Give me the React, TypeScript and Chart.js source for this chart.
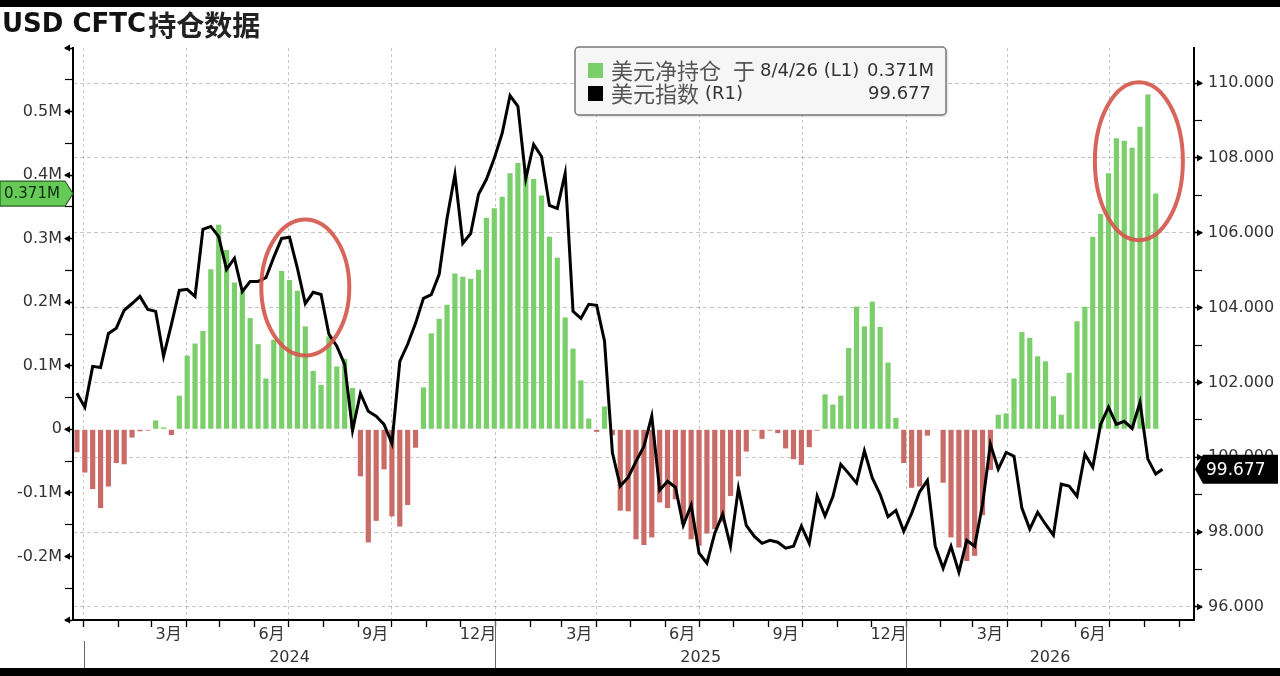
import React, { useEffect, useRef } from "react";
import { Chart, registerables } from "chart.js";

Chart.register(...registerables);

// ---------- text ----------
const TITLE_LATIN = "USD CFTC";
const TITLE_CJK = "持仓数据";
const LEGEND_NET = "美元净持仓";
const LEGEND_AT = "于";
const LEGEND_DATE = "8/4/26 (L1)";
const LEGEND_DXY = "美元指数";
const LEGEND_AXIS = "(R1)";

// ---------- dates ----------
const FIRST_REPORT = "2023-12-26"; // weekly CFTC report dates start here
const LAST_DXY_DATE = "2026-08-17"; // extra (latest) dollar-index reading
const X_MIN_DATE = "2023-12-23";
const X_MAX_DATE = "2026-09-14";

// ---------- series ----------
// USD net position, millions (weekly)
const NET_POSITION = [
  -0.036, -0.068, -0.094, -0.124, -0.09, -0.053, -0.055, -0.013, -0.003, -0.002,
  0.014, 0.003, -0.009, 0.053, 0.116, 0.135, 0.155, 0.252, 0.322, 0.282,
  0.231, 0.217, 0.175, 0.134, 0.08, 0.141, 0.249, 0.235, 0.218, 0.162,
  0.092, 0.07, 0.146, 0.099, 0.111, 0.065, -0.074, -0.178, -0.144, -0.063,
  -0.137, -0.153, -0.119, -0.029, 0.066, 0.151, 0.174, 0.196, 0.245, 0.24,
  0.237, 0.251, 0.333, 0.348, 0.366, 0.403, 0.419, 0.408, 0.394, 0.368,
  0.303, 0.27, 0.176, 0.127, 0.077, 0.017, -0.004, 0.036, -0.009, -0.128,
  -0.129, -0.173, -0.182, -0.17, -0.115, -0.124, -0.11, -0.149, -0.173, -0.183,
  -0.164, -0.157, -0.146, -0.105, -0.074, -0.035, -0.002, -0.015, -0.002, -0.006,
  -0.03, -0.047, -0.056, -0.028, -0.002, 0.055, 0.039, 0.053, 0.128, 0.193,
  0.162, 0.201, 0.161, 0.105, 0.018, -0.053, -0.092, -0.09, -0.01, -0.001,
  -0.084, -0.17, -0.186, -0.207, -0.199, -0.135, -0.064, 0.023, 0.025, 0.08,
  0.153, 0.144, 0.115, 0.107, 0.052, 0.023, 0.089, 0.17, 0.193, 0.303,
  0.339, 0.403, 0.458, 0.454, 0.443, 0.476, 0.527, 0.371,
];

// US dollar index (weekly + latest)
const DOLLAR_INDEX = [
  101.71, 101.34, 102.43, 102.4, 103.31, 103.45, 103.93, 104.11, 104.3, 103.95,
  103.9, 102.7, 103.55, 104.46, 104.49, 104.3, 106.09, 106.17, 105.9, 105.02,
  105.32, 104.43, 104.7, 104.7, 104.8, 105.35, 105.85, 105.88, 105.05, 104.11,
  104.41, 104.35, 103.29, 102.97, 102.48, 100.72, 101.71, 101.23, 101.1, 100.88,
  100.37, 102.56, 103.02, 103.58, 104.25, 104.35, 104.89, 106.39, 107.56, 105.72,
  105.98, 107.03, 107.43, 107.99, 108.66, 109.67, 109.38, 107.45, 108.36, 108.04,
  106.73, 106.65, 107.59, 103.9, 103.71, 104.09, 104.06, 103.1, 100.12, 99.23,
  99.46, 99.89, 100.29, 101.1, 99.12, 99.36, 99.2, 98.18, 98.72, 97.44,
  97.17, 97.97, 98.48, 97.62, 99.17, 98.18, 97.89, 97.7, 97.78, 97.73,
  97.57, 97.62, 98.16, 97.7, 98.96, 98.43, 98.95, 99.81, 99.57, 99.31,
  100.17, 99.45, 99.01, 98.41, 98.58, 98.02, 98.5, 99.07, 99.38, 97.62,
  97.03, 97.62, 96.93, 97.78, 97.62, 98.74, 100.35, 99.68, 100.13, 100.03,
  98.64, 98.08, 98.53, 98.21, 97.92, 99.28, 99.23, 98.96, 100.08, 99.73,
  100.88, 101.34, 100.88, 100.96, 100.77, 101.47, 99.95, 99.55, 99.677,
];

// ---------- axis ticks ----------
const LEFT_TICKS = [
  -0.3, -0.25, -0.2, -0.15, -0.1, -0.05, 0, 0.05, 0.1, 0.15,
  0.2, 0.25, 0.3, 0.35, 0.4, 0.45, 0.5, 0.55, 0.6,
];
const LEFT_MAJOR = [-0.3, -0.2, -0.1, 0, 0.1, 0.2, 0.3, 0.4, 0.5, 0.6];
const LEFT_LABELLED = [-0.2, -0.1, 0, 0.1, 0.2, 0.3, 0.4, 0.5];
const RIGHT_TICKS = [96, 97, 98, 99, 100, 101, 102, 103, 104, 105, 106, 107, 108, 109, 110];
const RIGHT_LABELLED = [96, 98, 100, 102, 104, 106, 108, 110];
const MONTH_LABELS = [3, 6, 9, 12];
const QUARTER_MONTHS = [1, 4, 7, 10];
const YEARS = [2024, 2025, 2026];

// highlighted regions (red ellipses), in data units
const HIGHLIGHT_DATES = ["2024-07-16", "2026-07-27"];
const HIGHLIGHT_VALUES = [0.223, 0.422];
const HIGHLIGHT_RX = [44, 44];
const HIGHLIGHT_RY = [68, 79];

// ---------- styles ----------
const GREEN = "#7acf6b";
const RED = "#c96c67";
const GRID = "rgba(0,0,0,0.22)";
const LATIN = '"DejaVu Sans", "Noto Sans CJK SC", sans-serif';
const CJK = '"Noto Sans CJK SC", "DejaVu Sans", sans-serif';

const DAY = 86400000;
const EPOCH = Date.UTC(2024, 0, 1);
const dayOf = (s: string) => {
  const [y, m, d] = s.split("-").map(Number);
  return (Date.UTC(y, m - 1, d) - EPOCH) / DAY;
};
const X_MIN = dayOf(X_MIN_DATE) - 0.5;
const X_MAX = dayOf(X_MAX_DATE);

const reportDays = NET_POSITION.map((_, i) => dayOf(FIRST_REPORT) + 7 * i);
const dxyDays = [...reportDays, dayOf(LAST_DXY_DATE)];

type MonthStart = { day: number; month: number; year: number };
const MONTH_STARTS: MonthStart[] = [];
for (let y = 2023; y <= 2027; y++) {
  for (let m = 0; m < 12; m++) {
    MONTH_STARTS.push({ day: (Date.UTC(y, m, 1) - EPOCH) / DAY, month: m + 1, year: y });
  }
}
const near = (a: number, b: number) => Math.abs(a - b) < 1e-6;
const inList = (list: number[], v: number) => list.some((x) => near(x, v));

function drawSegments(
  ctx: CanvasRenderingContext2D,
  x: number,
  y: number,
  segs: Array<[string, string, string, number]>
) {
  let cx = x;
  for (const [text, font, color, gap] of segs) {
    ctx.font = font;
    ctx.fillStyle = color;
    ctx.fillText(text, cx, y);
    cx += ctx.measureText(text).width + gap;
  }
}

function tri(ctx: CanvasRenderingContext2D, tipX: number, y: number, baseX: number, half: number) {
  ctx.beginPath();
  ctx.moveTo(tipX, y);
  ctx.lineTo(baseX, y - half);
  ctx.lineTo(baseX, y + half);
  ctx.closePath();
  ctx.fill();
}

const decorPlugin = {
  id: "decor",
  beforeDraw(chart: any) {
    const { ctx, width, height } = chart;
    ctx.save();
    ctx.fillStyle = "#ffffff";
    ctx.fillRect(0, 0, width, height);
    ctx.restore();
  },
  afterDraw(chart: any) {
    const { ctx, chartArea: ca, scales } = chart;
    const xs = scales.x;
    const yL = scales.y;
    const yR = scales.y1;
    ctx.save();

    // arrow heads on major ticks
    ctx.fillStyle = "#000";
    LEFT_MAJOR.forEach((v) => {
      const py = yL.getPixelForValue(v);
      tri(ctx, ca.left - 9, py, ca.left - 3, 3.4);
    });
    RIGHT_LABELLED.forEach((v) => {
      const py = yR.getPixelForValue(v);
      tri(ctx, ca.right + 9, py, ca.right + 3, 3.4);
    });

    // month labels
    ctx.textBaseline = "middle";
    ctx.textAlign = "center";
    ctx.fillStyle = "#333";
    ctx.font = `16px ${LATIN}`;
    MONTH_STARTS.forEach((ms, i) => {
      if (!MONTH_LABELS.includes(ms.month)) return;
      const next = MONTH_STARTS[i + 1];
      if (!next) return;
      const center = (ms.day + next.day) / 2;
      if (center < X_MIN || center > X_MAX) return;
      ctx.fillText(`${ms.month}月`, xs.getPixelForValue(center), 635);
    });

    // year labels and separators
    YEARS.forEach((y, idx) => {
      const s = dayOf(`${y}-01-01`);
      const e = dayOf(`${y + 1}-01-01`);
      const a = Math.max(s, X_MIN);
      const b = Math.min(e, X_MAX);
      ctx.fillStyle = "#333";
      ctx.font = `16px ${LATIN}`;
      ctx.fillText(String(y), xs.getPixelForValue((a + b) / 2), 658);
      if (s >= X_MIN && s <= X_MAX) {
        const px = Math.round(xs.getPixelForValue(s)) + 0.5;
        ctx.strokeStyle = "#666";
        ctx.lineWidth = 1;
        ctx.beginPath();
        ctx.moveTo(px, idx === 0 ? 641 : ca.bottom + 1);
        ctx.lineTo(px, 668);
        ctx.stroke();
      }
    });

    // highlight ellipses
    ctx.strokeStyle = "rgba(212, 88, 78, 0.92)";
    ctx.lineWidth = 4;
    HIGHLIGHT_DATES.forEach((d, i) => {
      const cx = xs.getPixelForValue(dayOf(d));
      const cy = yL.getPixelForValue(HIGHLIGHT_VALUES[i]);
      ctx.beginPath();
      ctx.ellipse(cx, cy, HIGHLIGHT_RX[i], HIGHLIGHT_RY[i], 0, 0, Math.PI * 2);
      ctx.stroke();
    });

    // legend box
    const bx = 575, by = 47, bw = 371, bh = 68;
    ctx.save();
    ctx.shadowColor = "rgba(0,0,0,0.25)";
    ctx.shadowBlur = 3;
    ctx.shadowOffsetX = 1;
    ctx.shadowOffsetY = 1;
    ctx.fillStyle = "#f6f6f6";
    ctx.beginPath();
    ctx.roundRect(bx, by, bw, bh, 4);
    ctx.fill();
    ctx.restore();
    ctx.strokeStyle = "#7a7a7a";
    ctx.lineWidth = 1.5;
    ctx.beginPath();
    ctx.roundRect(bx, by, bw, bh, 4);
    ctx.stroke();

    const row1 = 71, row2 = 94;
    ctx.fillStyle = GREEN;
    ctx.fillRect(588, row1 - 8, 15, 15);
    ctx.fillStyle = "#000";
    ctx.fillRect(588, row2 - 8, 15, 15);
    ctx.textAlign = "left";
    drawSegments(ctx, 611, row1, [
      [LEGEND_NET, `22px ${CJK}`, "#555", 12],
      [LEGEND_AT, `22px ${CJK}`, "#555", 5],
      [LEGEND_DATE, `18px ${LATIN}`, "#333", 0],
    ]);
    drawSegments(ctx, 611, row2, [
      [LEGEND_DXY, `22px ${CJK}`, "#555", 6],
      [LEGEND_AXIS, `18px ${LATIN}`, "#333", 0],
    ]);
    const lastNet = NET_POSITION[NET_POSITION.length - 1];
    const lastDxy = DOLLAR_INDEX[DOLLAR_INDEX.length - 1];
    ctx.textAlign = "right";
    ctx.font = `18px ${LATIN}`;
    ctx.fillStyle = "#333";
    ctx.fillText(`${lastNet.toFixed(3)}M`, bx + bw - 12, row1);
    ctx.fillText(lastDxy.toFixed(3), bx + bw - 15, row2);

    // left value tag
    const pyL = yL.getPixelForValue(lastNet);
    ctx.beginPath();
    ctx.moveTo(0, pyL - 12.5);
    ctx.lineTo(65, pyL - 12.5);
    ctx.lineTo(ca.left, pyL);
    ctx.lineTo(65, pyL + 12.5);
    ctx.lineTo(0, pyL + 12.5);
    ctx.closePath();
    ctx.fillStyle = "#66cb56";
    ctx.fill();
    ctx.strokeStyle = "#2d5e28";
    ctx.lineWidth = 1.2;
    ctx.stroke();
    ctx.textAlign = "left";
    ctx.fillStyle = "#102a10";
    ctx.font = `15px ${LATIN}`;
    ctx.fillText(`${lastNet.toFixed(3)}M`, 4, pyL + 1);

    // right value tag
    const pyR = yR.getPixelForValue(lastDxy);
    ctx.beginPath();
    ctx.moveTo(ca.right + 1, pyR);
    ctx.lineTo(ca.right + 9, pyR - 14.5);
    ctx.lineTo(chart.width - 2, pyR - 14.5);
    ctx.lineTo(chart.width - 2, pyR + 14.5);
    ctx.lineTo(ca.right + 9, pyR + 14.5);
    ctx.closePath();
    ctx.fillStyle = "#000";
    ctx.fill();
    ctx.fillStyle = "#fff";
    ctx.font = `17px ${LATIN}`;
    ctx.fillText(lastDxy.toFixed(3), ca.right + 12, pyR + 1);

    // title
    ctx.textAlign = "left";
    ctx.textBaseline = "middle";
    drawSegments(ctx, 2, 25, [
      [TITLE_LATIN, `bold 26px ${LATIN}`, "#111", 2],
      [TITLE_CJK, `bold 28px ${CJK}`, "#222", 0],
    ]);

    // frame bands of the screenshot
    ctx.fillStyle = "#000";
    ctx.fillRect(0, 0, chart.width, 7);
    ctx.fillRect(0, 668, chart.width, chart.height - 668);

    ctx.restore();
  },
};

export default function App() {
  const canvasRef = useRef<HTMLCanvasElement | null>(null);

  useEffect(() => {
    document.body.style.margin = "0";
    const canvas = canvasRef.current;
    if (!canvas) return;

    const barData = NET_POSITION.map((v, i) => ({ x: reportDays[i], y: v }));
    const lineData = DOLLAR_INDEX.map((v, i) => ({ x: dxyDays[i], y: v }));

    const chart = new Chart(canvas, {
      type: "bar",
      data: {
        datasets: [
          {
            type: "line",
            label: LEGEND_DXY,
            data: lineData,
            yAxisID: "y1",
            borderColor: "#000",
            borderWidth: 3,
            pointRadius: 0,
            tension: 0,
            order: 0,
          } as any,
          {
            type: "bar",
            label: LEGEND_NET,
            data: barData,
            yAxisID: "y",
            backgroundColor: (c: any) => ((c.raw?.y ?? 0) >= 0 ? GREEN : RED),
            barPercentage: 0.66,
            categoryPercentage: 1,
            order: 1,
          } as any,
        ],
      },
      options: {
        responsive: false,
        animation: false,
        events: [],
        layout: { padding: { top: 48, left: 0, right: 0, bottom: 0 } },
        plugins: {
          legend: { display: false },
          title: { display: false },
          tooltip: { enabled: false },
        },
        scales: {
          x: {
            type: "linear",
            position: "bottom",
            min: X_MIN,
            max: X_MAX,
            offset: false,
            afterBuildTicks: (s: any) => {
              s.ticks = MONTH_STARTS.filter((m) => m.day >= X_MIN && m.day <= X_MAX).map((m) => ({
                value: m.day,
              }));
            },
            afterFit: (s: any) => {
              s.height = 56;
            },
            ticks: { display: false },
            grid: {
              offset: false,
              drawOnChartArea: true,
              drawTicks: true,
              tickLength: 7,
              tickColor: "#000",
              tickWidth: 1.3,
              lineWidth: 1,
              color: (c: any) => {
                const v = c.tick?.value;
                const ms = MONTH_STARTS.find((m) => near(m.day, v));
                return ms && QUARTER_MONTHS.includes(ms.month) ? GRID : "rgba(0,0,0,0)";
              },
            },
            border: { display: true, color: "#000", width: 2, dash: [3, 3] },
          } as any,
          y: {
            type: "linear",
            position: "left",
            min: -0.3,
            max: 0.6,
            afterBuildTicks: (s: any) => {
              s.ticks = LEFT_TICKS.map((v) => ({ value: v }));
            },
            afterFit: (s: any) => {
              s.width = 73;
            },
            ticks: {
              autoSkip: false,
              padding: 3,
              color: "#333",
              font: { family: LATIN, size: 16 },
              callback: (v: any) => {
                const n = Number(v);
                if (!inList(LEFT_LABELLED, n)) return "";
                return near(n, 0) ? "0" : `${n.toFixed(1)}M`;
              },
            },
            grid: {
              drawOnChartArea: false,
              drawTicks: true,
              tickLength: 8,
              tickColor: "#000",
              tickWidth: (c: any) => (inList(LEFT_MAJOR, c.tick?.value) ? 1.6 : 1.2),
            },
            border: { display: true, color: "#000", width: 2 },
          } as any,
          y1: {
            type: "linear",
            position: "right",
            min: 95.65,
            max: 110.94,
            afterBuildTicks: (s: any) => {
              s.ticks = RIGHT_TICKS.map((v) => ({ value: v }));
            },
            afterFit: (s: any) => {
              s.width = 86;
            },
            ticks: {
              autoSkip: false,
              padding: 6,
              color: "#333",
              font: { family: LATIN, size: 16 },
              callback: (v: any) => (inList(RIGHT_LABELLED, Number(v)) ? Number(v).toFixed(3) : ""),
            },
            grid: {
              drawOnChartArea: true,
              drawTicks: true,
              tickLength: 8,
              tickColor: "#000",
              tickWidth: (c: any) => (inList(RIGHT_LABELLED, c.tick?.value) ? 1.6 : 1.2),
              lineWidth: 1,
              color: (c: any) => (inList(RIGHT_LABELLED, c.tick?.value) ? GRID : "rgba(0,0,0,0)"),
            },
            border: { display: true, color: "#000", width: 2, dash: [4, 3] },
          } as any,
        },
      },
      plugins: [decorPlugin],
    } as any);

    return () => chart.destroy();
  }, []);

  return (
    <div style={{ width: 1280, height: 676, overflow: "hidden" }}>
      <canvas ref={canvasRef} width={1280} height={676} style={{ display: "block" }} />
    </div>
  );
}
